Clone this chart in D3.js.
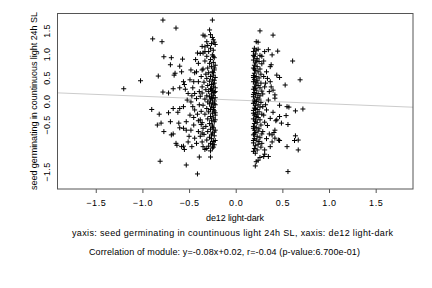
<!DOCTYPE html>
<html><head><meta charset="utf-8">
<script src="https://cdn.jsdelivr.net/npm/d3@7"></script>
<style>body{margin:0;background:#fff}svg{display:block}text{font-family:"Liberation Sans",Arial,sans-serif;fill:#000}</style>
</head><body><svg id="c" width="432" height="288"></svg>
<script>
const xTicks = [-1.5,-1.0,-0.5,0.0,0.5,1.0,1.5];
const yTicks = [-1.5,-0.5,0.0,0.5,1.0,1.5];
const slope = -0.08, intercept = 0.02;
const xLabel = "de12 light-dark";
const yLabel = "seed germinating in countinuous light 24h SL";
const title1 = "yaxis: seed germinating in countinuous light 24h SL, xaxis: de12 light-dark";
const title2 = "Correlation of module: y=-0.08x+0.02, r=-0.04 (p-value:6.700e-01)";
// left cluster scatter
const leftScatter = [[-0.78,1.72],[-0.25,1.72],[-0.64,1.55],[-0.89,1.32],[-0.79,1.26],[-0.28,1.51],[-0.33,1.38],[-0.27,1.41],[-0.77,0.94],[-0.83,0.53],[-1.02,0.43],[-1.20,0.26],[-0.70,0.77],[-0.57,0.89],[-0.60,0.74],[-0.48,0.66],[-0.66,0.55],[-0.78,0.19],[-0.72,0.17],[-0.67,0.26],[-0.60,0.28],
[-0.69,0.92],[-0.65,0.59],[-0.58,0.62],[-0.56,0.41],[-0.49,0.45],[-0.45,0.41],[-0.54,0.25],[-0.51,0.16],[-0.42,0.62],[-0.40,0.80],[-0.38,1.01],[-0.36,1.16],[-0.40,0.41],[-0.36,0.30],[-0.44,0.16],[-0.47,0.11],[-0.35,1.40],[-0.31,1.26],[-0.33,1.05],
[-0.67,-0.16],[-0.60,-0.16],[-0.56,-0.12],[-0.61,-0.47],[-0.56,-0.58],[-0.53,-0.44],[-0.49,-0.30],[-0.45,-0.51],[-0.44,-0.19],[-0.69,-0.72],[-0.63,-0.94],[-0.58,-0.97],[-0.51,-0.87],[-0.47,-0.97],[-0.44,-0.79],[-0.40,-0.65],[-0.38,-0.40],[-0.36,-0.87],[-0.35,-0.58],[-0.35,-0.97],[-0.31,-1.01],[-0.39,-1.19],[-0.27,-1.19],[-0.53,-1.36],[-0.41,-1.55],
[-0.90,-0.18],[-0.82,-0.28],[-0.72,-0.25],[-0.84,-0.51],[-0.80,-0.47],[-0.70,-0.44],[-0.77,-0.65],[-0.67,-0.70],[-0.81,-1.28],[-0.64,-0.90],[-0.60,-0.57],[-0.56,-0.96],[-0.55,-1.03],[-0.62,-0.24],
[-0.46,0.28],[-0.42,0.05],[-0.39,-0.08],[-0.48,-0.02],[-0.37,0.52],[-0.43,0.88],[-0.39,0.20],[-0.45,-0.35],[-0.41,-0.28],[-0.37,-0.50],[-0.48,-0.62],[-0.42,-0.90],[-0.38,-0.75],[-0.50,-0.75],[-0.36,0.66],[-0.41,1.02],[-0.52,0.02],[-0.46,-0.12],[-0.40,-0.42],[-0.55,0.35],[-0.37,-0.22],[-0.44,0.60],[-0.38,0.10],[-0.53,-0.62],[-0.36,-0.68]];
// left dense column
const leftColumn = [[-0.24,1.30],[-0.26,1.22],[-0.23,1.25],[-0.30,1.18],[-0.27,1.12],[-0.33,1.15],[-0.24,1.08],[-0.29,1.05],[-0.35,1.02],[-0.25,0.98],[-0.31,0.95],[-0.23,0.92],[-0.27,0.88],[-0.33,0.85],[-0.24,0.82],[-0.28,0.80],[-0.22,0.76],[-0.26,0.73],[-0.30,0.70],[-0.35,0.68],[-0.23,0.66],[-0.25,0.62],[-0.29,0.60],[-0.32,0.57],[-0.24,0.55],[-0.27,0.52],[-0.22,0.50],[-0.31,0.48],[-0.25,0.45],[-0.28,0.42],[-0.34,0.40],[-0.23,0.38],[-0.26,0.35],[-0.30,0.33],[-0.24,0.30],[-0.22,0.28],[-0.27,0.26],[-0.32,0.24],[-0.25,0.22],[-0.29,0.20],[-0.23,0.18],[-0.36,0.17],[-0.26,0.15],[-0.24,0.12],[-0.31,0.11],[-0.28,0.09],[-0.22,0.07],[-0.25,0.05],[-0.33,0.04],[-0.27,0.02],[-0.23,0.00],[-0.30,-0.02],[-0.25,-0.04],[-0.28,-0.06],[-0.22,-0.08],[-0.35,-0.09],[-0.26,-0.11],[-0.24,-0.14],[-0.31,-0.16],[-0.27,-0.18],[-0.23,-0.21],[-0.29,-0.23],[-0.25,-0.26],[-0.33,-0.28],[-0.22,-0.30],[-0.27,-0.33],[-0.24,-0.36],[-0.30,-0.38],[-0.26,-0.41],[-0.23,-0.44],[-0.36,-0.46],[-0.28,-0.48],[-0.25,-0.51],[-0.32,-0.54],[-0.24,-0.57],[-0.27,-0.60],[-0.22,-0.62],[-0.30,-0.65],[-0.25,-0.68],[-0.34,-0.71],[-0.23,-0.74],[-0.28,-0.77],[-0.26,-0.80],[-0.31,-0.83],[-0.24,-0.86],[-0.27,-0.90],[-0.23,-0.93],[-0.29,-0.96],[-0.25,-1.00],[-0.33,-1.03],[-0.27,-1.06],[-0.24,-0.98],[-0.23,0.70],[-0.24,0.95],[-0.22,1.20],[-0.25,1.35],
[-0.23,0.44],[-0.24,0.36],[-0.22,0.20],[-0.26,0.08],[-0.23,-0.06],[-0.24,-0.18],[-0.22,-0.40],[-0.25,-0.55],[-0.23,-0.66],[-0.26,-0.72],[-0.22,-0.84],[-0.25,-0.92],[-0.24,0.60],[-0.26,0.25],[-0.22,-0.25]];
// right cluster scatter
const rightScatter = [[0.26,1.49],[0.40,1.40],[0.61,0.85],[0.69,0.45],[0.45,1.06],[0.39,0.98],[0.53,0.34],[0.47,0.50],[0.38,0.77],[0.22,1.26],[0.24,1.25],
[0.56,-1.50],[0.21,-1.38],[0.67,-1.04],[0.55,-0.97],[0.63,-0.84],[0.67,-0.83],[0.64,-0.74],[0.72,-0.17],[0.64,-0.21],[0.57,-0.13],[0.54,-0.31],[0.56,-0.50],[0.49,-0.47],[0.43,-0.42],[0.47,-0.84],[0.35,-1.18],[0.31,-1.13],[0.24,-1.26],[0.26,-1.20],[0.39,-0.87],[0.41,-0.67],[0.47,-0.33],[0.40,-0.24],
[0.31,1.05],[0.35,1.09],[0.37,0.73],[0.44,0.55],[0.37,0.41],[0.31,0.30],[0.40,0.23],[0.42,0.13],[0.42,0.06],[0.47,-0.09],[0.55,-0.12],[0.33,-0.19],[0.44,-0.40],[0.37,-0.37],[0.42,-0.62],[0.39,-0.72],[0.42,-0.79],[0.46,-0.83],[0.37,-0.97],[0.31,-1.04],[0.21,-1.11],[0.30,-1.18],[0.22,-1.29],
[0.33,0.62],[0.30,0.85],[0.34,0.48],[0.29,0.15],[0.35,0.02],[0.32,-0.08],[0.30,-0.30],[0.34,-0.52],[0.29,-0.65],[0.33,-0.80],[0.36,0.20],[0.28,0.95],[0.31,-0.45],[0.36,-0.70],[0.30,0.52],[0.28,-0.90],[0.38,0.30],[0.32,0.38],[0.29,-0.12]];
// right dense column
const rightColumn = [[0.20,1.12],[0.22,1.08],[0.19,1.05],[0.24,1.10],[0.21,1.00],[0.26,0.97],[0.20,0.94],[0.23,0.90],[0.19,0.87],[0.25,0.84],[0.21,0.81],[0.28,0.79],[0.20,0.76],[0.23,0.73],[0.19,0.70],[0.26,0.68],[0.21,0.65],[0.24,0.62],[0.20,0.59],[0.27,0.57],[0.19,0.54],[0.22,0.52],[0.25,0.49],[0.20,0.46],[0.23,0.43],[0.19,0.41],[0.27,0.38],[0.21,0.36],[0.24,0.33],[0.20,0.30],[0.26,0.28],[0.19,0.25],[0.22,0.23],[0.28,0.21],[0.20,0.18],[0.24,0.16],[0.21,0.13],[0.26,0.11],[0.19,0.09],[0.23,0.07],[0.25,0.04],[0.20,0.02],[0.22,-0.01],[0.27,-0.03],[0.19,-0.05],[0.24,-0.08],[0.21,-0.10],[0.26,-0.13],[0.20,-0.15],[0.23,-0.18],[0.19,-0.20],[0.25,-0.23],[0.21,-0.25],[0.28,-0.28],[0.20,-0.30],[0.22,-0.33],[0.24,-0.35],[0.19,-0.38],[0.26,-0.40],[0.21,-0.43],[0.23,-0.46],[0.20,-0.48],[0.27,-0.51],[0.19,-0.54],[0.22,-0.56],[0.25,-0.59],[0.20,-0.62],[0.24,-0.64],[0.21,-0.67],[0.28,-0.70],[0.19,-0.72],[0.23,-0.75],[0.26,-0.78],[0.20,-0.80],[0.22,-0.83],[0.25,-0.86],[0.19,-0.89],[0.24,-0.92],[0.21,-0.95],[0.27,-0.98],[0.20,-1.01],[0.23,-1.04],[0.19,-1.07],
[0.19,0.97],[0.20,0.68],[0.19,0.50],[0.21,0.27],[0.19,0.14],[0.20,-0.02],[0.19,-0.26],[0.21,-0.40],[0.19,-0.58],[0.20,-0.70],[0.19,-0.84],[0.22,0.40],[0.22,0.00],[0.23,-0.28],[0.22,0.85],[0.21,-0.16]];

const points = [].concat(leftScatter, leftColumn, rightScatter, rightColumn);

const svg = d3.select("#c");
const x = d3.scaleLinear().domain([-1.91, 1.90]).range([57.5, 413]);
const y = d3.scaleLinear().domain([-1.87, 1.87]).range([189, 13]);

// regression line
const xd = x.domain();
svg.append("line")
  .attr("x1", x(xd[0])).attr("y1", y(slope*xd[0]+intercept))
  .attr("x2", x(xd[1])).attr("y2", y(slope*xd[1]+intercept))
  .attr("stroke", "#cccccc").attr("stroke-width", 1);

// points
svg.append("g").selectAll("path").data(points).join("path")
  .attr("transform", d => `translate(${x(d[0])},${y(d[1])})`)
  .attr("d", "M-2.5,0H2.5M0,-2.5V2.5")
  .attr("stroke", "#000").attr("stroke-width", 1).attr("fill", "none");

// frame
svg.append("rect").attr("x", 57.5).attr("y", 13.5).attr("width", 355.5).attr("height", 175.5)
  .attr("fill", "none").attr("stroke", "#555").attr("stroke-width", 1);

const FS = 9;
// x axis
const xAxis = d3.axisBottom(x).tickValues(xTicks).tickFormat(d3.format(".1f")).tickSize(4).tickPadding(7);
const gx = svg.append("g").attr("transform", "translate(0,189)").call(xAxis);
gx.select(".domain").remove();
gx.selectAll("line").attr("stroke", "#555");
gx.selectAll("text").attr("font-size", FS).attr("letter-spacing", 0.6).attr("font-family", "Liberation Sans, Arial, sans-serif");

// y axis labels (no tick marks)
const ya = d3.axisLeft(y).tickValues(yTicks).tickFormat(d3.format(".1f")).tickSize(0).tickPadding(0);
const gy = svg.append("g").attr("transform", "translate(50,0)").call(ya);
gy.select(".domain").remove();
gy.selectAll(".tick text").attr("font-size", FS).attr("letter-spacing", 0.4).attr("font-family", "Liberation Sans, Arial, sans-serif")
  .attr("text-anchor", "middle").attr("x", 0).attr("dy", 0)
  .attr("transform", "rotate(-90)");

svg.append("text").attr("x", 235).attr("y", 221).attr("text-anchor", "middle").attr("font-size", FS)
  .attr("textLength", 58).attr("lengthAdjust", "spacing").text(xLabel);
svg.append("text").attr("transform", "translate(37,101) rotate(-90)").attr("text-anchor", "middle").attr("font-size", FS)
  .attr("textLength", 178).attr("lengthAdjust", "spacing").text(yLabel);
svg.append("text").attr("x", 232.5).attr("y", 235.5).attr("text-anchor", "middle").attr("font-size", FS)
  .attr("textLength", 321).attr("lengthAdjust", "spacing").text(title1);
svg.append("text").attr("x", 224.5).attr("y", 254.5).attr("text-anchor", "middle").attr("font-size", FS)
  .attr("textLength", 271).attr("lengthAdjust", "spacing").text(title2);
</script></body></html>
